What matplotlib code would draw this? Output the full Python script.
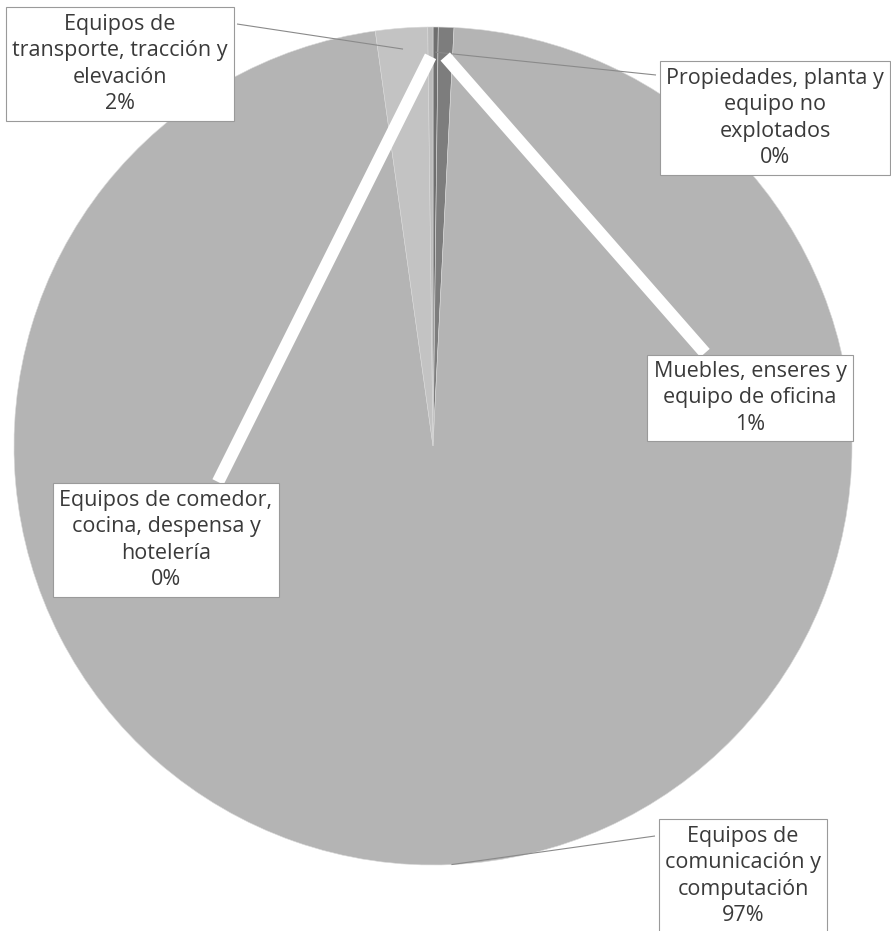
import numpy as np
import matplotlib as mpl
mpl.use('Agg')
import matplotlib.pyplot as plt

# slice data, clockwise from 12 o'clock
labels = ['Propiedades, planta y\nequipo no\nexplotados',
          'Muebles, enseres y\nequipo de oficina',
          'Equipos de\ncomunicación y\ncomputación',
          'Equipos de\ntransporte, tracción y\nelevación',
          'Equipos de comedor,\ncocina, despensa y\nhotelería']
values = [0.2, 0.6, 97.0, 2.0, 0.2]
colors = ['#6f6f6f', '#7d7d7d', '#b4b4b4', '#c3c3c3', '#bcbcbc']

plt.rcParams['font.family'] = ['Open Sans', 'DejaVu Sans']

W, H = 891, 931
fig = plt.figure(figsize=(W / 100, H / 100), dpi=100)
ax = fig.add_axes([0, 0, 1, 1])

cx, cy, R = 433, H - 446, 419
wedges, _ = ax.pie(values, colors=colors, startangle=90, counterclock=False,
                   radius=R, center=(cx, cy), frame=True,
                   wedgeprops=dict(edgecolor='#d8d8d8', linewidth=0.4))
ax.set_xlim(0, W)
ax.set_ylim(0, H)
ax.set_aspect('equal')
ax.axis('off')


def edge_point(w, r):
    a = np.deg2rad((w.theta1 + w.theta2) / 2)
    return cx + r * R * np.cos(a), cy + r * R * np.sin(a)


# label box centres (pixel coords from top) and leader end points
box_pos = [(775, 118), (750, 398), (743, 876), (120, 64), (166, 540)]
leader_end = [(656, 75), (705, 353), (655, 836), (237, 24), (218, 482)]
leader_r = [0.94, 0.93, 1.0, 0.95, 0.93]
leader_style = [('#8a8a8a', 0.8), ('white', 9), ('#8a8a8a', 0.8),
                ('#8a8a8a', 0.8), ('white', 9)]

for w, v, lab, (bx, by), (ex, ey), r, (lc, lw) in zip(
        wedges, values, labels, box_pos, leader_end, leader_r, leader_style):
    sx, sy = edge_point(w, r)
    ax.plot([sx, ex], [sy, H - ey], color=lc, lw=lw, solid_capstyle='butt',
            zorder=3)
    ax.text(bx, H - by, '%s\n%d%%' % (lab, int(v + 0.5)), ha='center',
            va='center', fontsize=15.5, color='#3a3a3a', linespacing=1.34,
            zorder=5,
            bbox=dict(boxstyle='square,pad=0.3', facecolor='white',
                      edgecolor='#9a9a9a', linewidth=0.8))

fig.savefig('out.png', dpi=100, facecolor='white')
